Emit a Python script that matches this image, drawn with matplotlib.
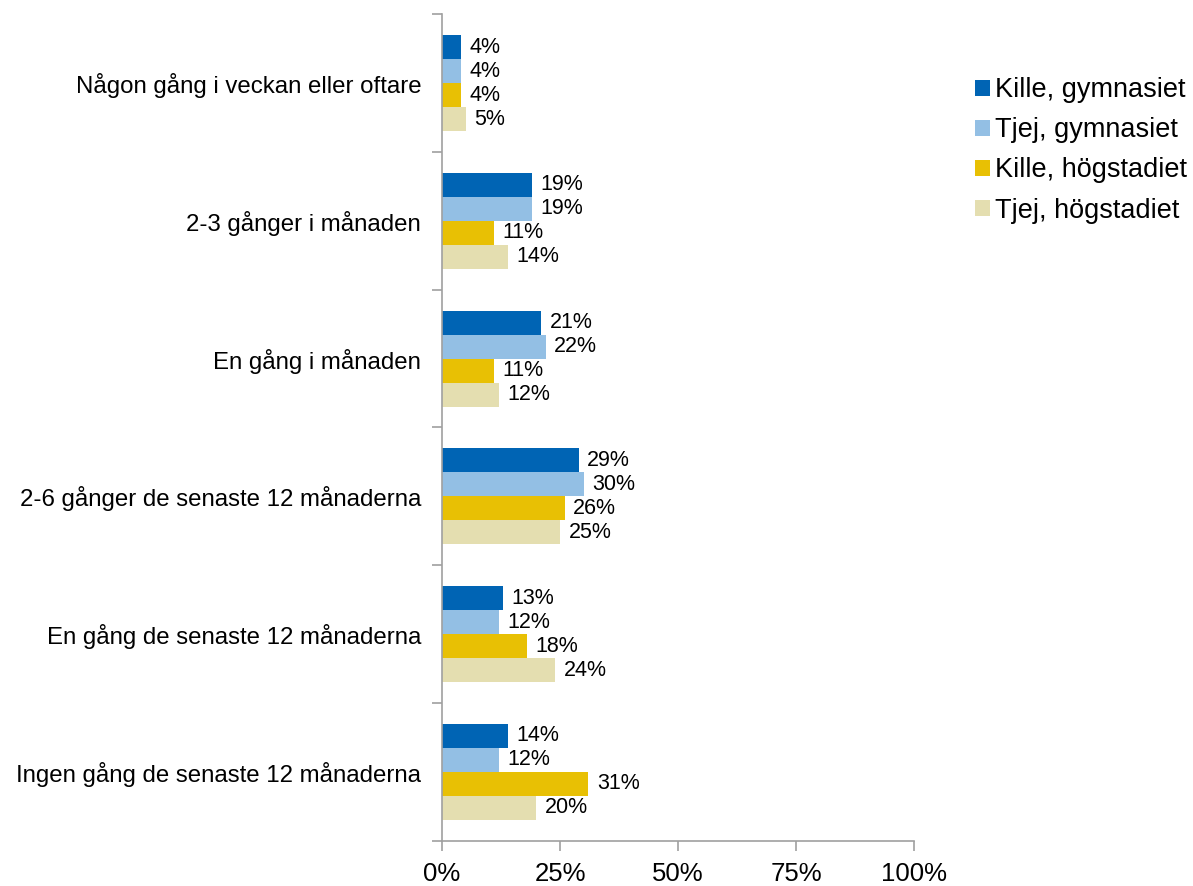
import numpy as np
import matplotlib.pyplot as plt

plt.rcParams['font.family'] = ['Liberation Sans', 'DejaVu Sans']

categories = [
    "Någon gång i veckan eller oftare",
    "2-3 gånger i månaden",
    "En gång i månaden",
    "2-6 gånger de senaste 12 månaderna",
    "En gång de senaste 12 månaderna",
    "Ingen gång de senaste 12 månaderna",
]
series_names = ["Kille, gymnasiet", "Tjej, gymnasiet", "Kille, högstadiet", "Tjej, högstadiet"]
kille_gymn = [4, 19, 21, 29, 13, 14]
tjej_gymn = [4, 19, 22, 30, 12, 12]
kille_hog = [4, 11, 11, 26, 18, 31]
tjej_hog = [5, 14, 12, 25, 24, 20]
colors = ['#0064B4', '#93BFE4', '#E8C004', '#E4DEB0']
x_ticks = [0, 25, 50, 75, 100]

fig = plt.figure(figsize=(11.93, 8.86), dpi=100)
ax = fig.add_axes([0.3705, 0.051, 0.396, 0.933])

series = [kille_gymn, tjej_gymn, kille_hog, tjej_hog]
y = np.arange(len(categories))
h = 0.174
for i, (vals, name, c) in enumerate(zip(series, series_names, colors)):
    pos = y + (i - 1.5) * h
    bars = ax.barh(pos, vals, height=h, color=c, label=name, edgecolor='none')
    ax.bar_label(bars, labels=[f"{v}%" for v in vals], padding=6, fontsize=15.5, color='black')

ax.set_xlim(0, 100)
ax.set_ylim(len(categories) - 0.5, -0.5)
ax.set_xticks(x_ticks)
ax.set_xticklabels([f"{t}%" for t in x_ticks], fontsize=18.5)
ax.set_yticks(y)
ax.set_yticklabels(categories, fontsize=17.3)
ax.set_yticks(np.arange(len(categories) + 1) - 0.5, minor=True)

ax.tick_params(axis='y', which='major', length=0, pad=15)
ax.tick_params(axis='y', which='minor', length=7, color='#A0A0A0', width=1.2)
ax.tick_params(axis='x', length=7, color='#A0A0A0', width=1.2, pad=8)

for s in ['top', 'right']:
    ax.spines[s].set_visible(False)
for s in ['left', 'bottom']:
    ax.spines[s].set_color('#A0A0A0')
    ax.spines[s].set_linewidth(1.2)

fig.legend(loc='upper left', bbox_to_anchor=(0.808, 0.925), frameon=False,
           fontsize=19.5, handlelength=0.55, handleheight=0.55, handletextpad=0.2,
           labelspacing=0.52, borderaxespad=0)

fig.savefig('out.png', dpi=100, facecolor='white')
